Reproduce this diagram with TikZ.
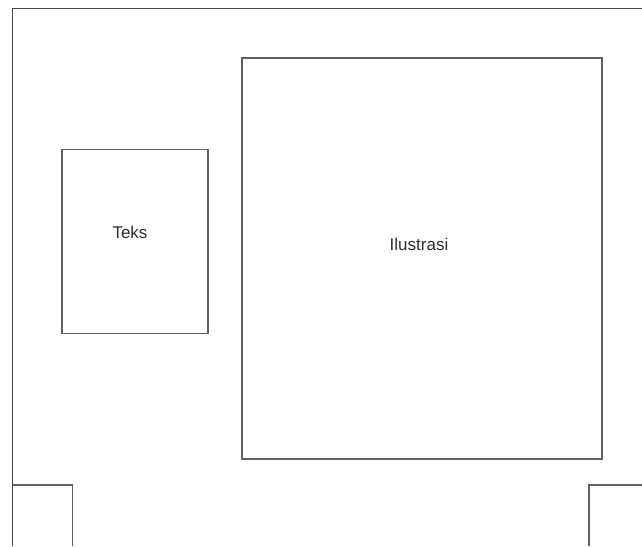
\documentclass[tikz,border=0pt]{standalone}
\usepackage{fontspec}
\setmainfont{Liberation Sans}
\begin{document}
\begin{tikzpicture}[x=1pt,y=-1pt,
  frame/.style={draw=black!62,line width=1.5pt},
  outer/.style={draw=black!72,line width=1.6pt},
  panel/.style={frame,rectangle,inner sep=0pt,anchor=north west},
  lbl/.style={font=\fontsize{17}{20}\selectfont,text=black!82,inner sep=0pt}]
\useasboundingbox (0,0) rectangle (642,546);
\fill[white] (0,0) rectangle (642,546);
% outer page frame
\coordinate (ob) at (12.5,546);
\coordinate (otl) at (12.5,8.5);
\coordinate (otr) at (642,8.5);
\draw[outer] (ob) -- (otl) -- (otr);
% panels
\node[panel,minimum width=146pt,minimum height=184pt] (teksbox) at (61,148.5) {};
\node[panel,minimum width=360pt,minimum height=401pt] (ilubox) at (241,57) {};
\node[lbl] (teks) at (130,232.5) {Teks};
\node[lbl] (ilu) at (419,244.5) {Ilustrasi};
% partial boxes at bottom
\coordinate (bl1) at (12.5,485);
\coordinate (bl2) at (72.5,485);
\coordinate (bl3) at (72.5,546);
\draw[frame] (bl1) -- (bl2) -- (bl3);
\coordinate (br1) at (589,546);
\coordinate (br2) at (589,485);
\coordinate (br3) at (642,485);
\draw[frame] (br1) -- (br2) -- (br3);
\end{tikzpicture}
\end{document}
